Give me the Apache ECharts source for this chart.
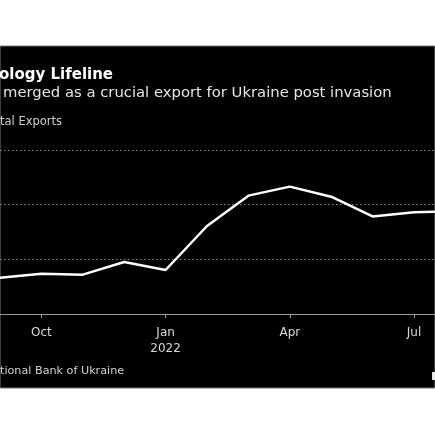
<!DOCTYPE html>
<html>
<head>
<meta charset="utf-8">
<script src="https://cdn.jsdelivr.net/npm/echarts@6/dist/echarts.min.js"></script>
<style>
html,body{margin:0;padding:0;background:#fff;}
#c{width:435px;height:435px;}
</style>
</head>
<body>
<div id="c"></div>
<script>
const months = ['Sep','Oct','Nov','Dec','Jan','Feb','Mar','Apr','May','Jun','Jul','Aug'];
const monthLabels = ['', 'Oct', '', '', 'Jan\n2022', '', '', 'Apr', '', '', 'Jul', ''];
const shareOfExports = [5.33, 5.47, 5.44, 5.90, 5.61, 7.22, 8.33, 8.66, 8.29, 7.57, 7.72, 7.77];
const yTicks = [4, 6, 8, 10];

const titleText = 'ology Lifeline';
const subtitleText = 'merged as a crucial export for Ukraine post invasion';
const unitText = 'tal Exports';
const sourceText = 'tional Bank of Ukraine';

const chart = echarts.init(document.getElementById('c'));
const font = '"DejaVu Sans", sans-serif';
chart.setOption({
  backgroundColor: '#ffffff',
  animation: false,
  graphic: [
    { type: 'rect', z: -10, shape: { x: 0, y: 46, width: 435, height: 342 },
      style: { fill: '#000000', stroke: '#7a7a7a', lineWidth: 1 } },
    { type: 'text', left: -1, top: 68, style: { text: titleText, fill: '#ffffff', font: 'bold 15px ' + font } },
    { type: 'text', left: 3, top: 86, style: { text: subtitleText, fill: '#e6e6e6', font: '14.8px ' + font } },
    { type: 'text', left: 0, top: 116, style: { text: unitText, fill: '#d0d0d0', font: '11.5px ' + font } },
    { type: 'text', left: 0, top: 366, style: { text: sourceText, fill: '#d0d0d0', font: '11.2px ' + font } },
    { type: 'rect', shape: { x: 432, y: 372, width: 3, height: 8 }, style: { fill: '#e8e8e8' } }
  ],
  grid: { left: 0, width: 455.4, top: 150, bottom: 121, containLabel: false, outerBoundsMode: 'none' },
  xAxis: {
    type: 'category',
    data: months,
    boundaryGap: false,
    axisLine: { lineStyle: { color: '#9a9a9a', width: 1 } },
    axisTick: { show: true, length: 4, lineStyle: { color: '#9a9a9a' },
      interval: function (i) { return monthLabels[i] !== ''; } },
    axisLabel: {
      interval: function (i) { return monthLabels[i] !== ''; },
      formatter: function (v, i) { return monthLabels[i]; },
      color: '#d8d8d8', fontFamily: font, fontSize: 12, lineHeight: 16, margin: 11
    },
    splitLine: { show: false }
  },
  yAxis: {
    type: 'value',
    min: yTicks[0], max: yTicks[yTicks.length - 1], interval: 2,
    axisLine: { show: false }, axisTick: { show: false },
    axisLabel: { show: false },
    splitLine: { show: true, lineStyle: { color: '#8a8a8a', type: [1.5, 2.5], width: 1 } }
  },
  series: [{
    type: 'line',
    data: shareOfExports,
    symbol: 'none',
    lineStyle: { color: '#ffffff', width: 2.5 },
    clip: false
  }]
});
</script>
</body>
</html>
